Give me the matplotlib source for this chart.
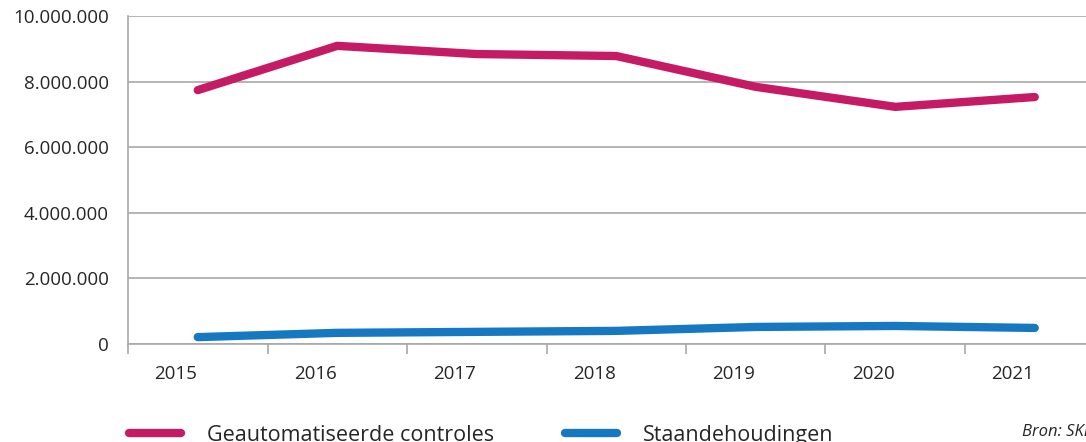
import matplotlib.pyplot as plt
from matplotlib.ticker import FuncFormatter, FixedLocator
from matplotlib.transforms import ScaledTranslation
import numpy as np

jaren = ['2015', '2016', '2017', '2018', '2019', '2020', '2021']
geautomatiseerd = [7.74e6, 9.09e6, 8.84e6, 8.78e6, 7.84e6, 7.23e6, 7.53e6]
staandehoudingen = [0.21e6, 0.34e6, 0.37e6, 0.40e6, 0.52e6, 0.55e6, 0.49e6]

magenta = '#c51b64'
blauw = '#1778c2'
grijs = '#a8a8a8'
tekst = '#262626'

plt.rcParams['font.family'] = ['Open Sans', 'DejaVu Sans']

fig = plt.figure(figsize=(10.86, 4.42), dpi=100)
ax = fig.add_axes([128 / 1086, 98 / 442, 976.5 / 1086, 328 / 442])

x = np.arange(len(jaren))
ax.plot(x, geautomatiseerd, color=magenta, lw=6, solid_capstyle='round',
        label='Geautomatiseerde controles')
ax.plot(x, staandehoudingen, color=blauw, lw=6, solid_capstyle='round',
        label='Staandehoudingen')

ax.set_xlim(-0.5, len(jaren) - 0.5)
ax.set_ylim(0, 10e6)
ax.set_yticks(np.arange(0, 10.1e6, 2e6))
ax.yaxis.set_major_formatter(FuncFormatter(lambda v, p: f'{int(v):,}'.replace(',', '.')))
ax.grid(axis='y', color=grijs, lw=1.2)
ax.set_axisbelow(True)

ax.set_xticks(x)
ax.set_xticklabels(jaren)
ax.xaxis.set_minor_locator(FixedLocator(np.arange(-0.5, len(jaren), 1)))
ax.tick_params(axis='x', which='major', length=0, pad=15, labelsize=13.5, labelcolor=tekst)
ax.tick_params(axis='x', which='minor', length=7, width=1.2, color=grijs)
ax.tick_params(axis='y', length=0, pad=14, labelsize=13.5, labelcolor=tekst)

# jaartallen staan in het origineel iets links van de datapunten
verschuiving = ScaledTranslation(-22 / 100, 0, fig.dpi_scale_trans)
for lbl in ax.get_xticklabels():
    lbl.set_transform(lbl.get_transform() + verschuiving)

for s in ['top', 'right']:
    ax.spines[s].set_visible(False)
for s in ['left', 'bottom']:
    ax.spines[s].set_color(grijs)
    ax.spines[s].set_linewidth(1.2)

leg = fig.legend(loc='lower left', bbox_to_anchor=(110 / 1086, -23 / 442), ncol=2,
                 frameon=False, fontsize=15.5, handlelength=2.4, handletextpad=1.2,
                 columnspacing=3.3)
for t in leg.get_texts():
    t.set_color(tekst)

fig.text(1022 / 1086, 2 / 442, 'Bron: SKDB', fontsize=12, style='italic',
         color=tekst, ha='left', va='bottom')

fig.savefig('out.png', dpi=100)
